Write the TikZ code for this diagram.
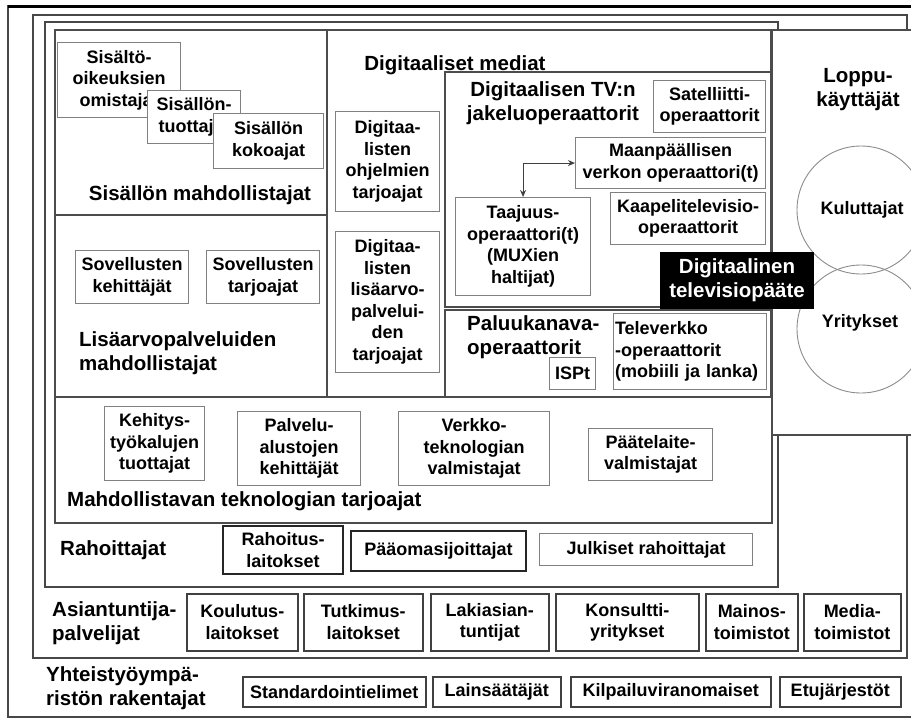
\documentclass[tikz,border=0pt]{standalone}
\usepackage{fontspec}
\setmainfont{Liberation Sans}
\usetikzlibrary{arrows.meta}
\newcommand\boxfont{\fontsize{18}{21.5}\selectfont\bfseries}
\newcommand\labfont{\fontsize{20.5}{24}\selectfont\bfseries}
\begin{document}
\begin{tikzpicture}[x=1pt,y=-1pt,
  frame/.style={draw=black!72, line width=1.7pt},
  grp/.style={draw=black!70, line width=1.6pt},
  sbox/.style={draw=black!50, line width=1.1pt, fill=white, inner sep=0pt,
    anchor=north west, align=center, font=\boxfont},
  dbox/.style={sbox, draw=black!75, line width=1.5pt},
  hbox/.style={sbox, draw=black!85, line width=2pt},
  lab/.style={inner sep=0pt, font=\labfont},
  ring/.style={circle, draw=black!45, line width=0.9pt, minimum size=128pt, inner sep=0pt, font=\boxfont},
  arr/.style={draw=black!75, line width=1pt, {Stealth[length=7pt,width=6pt]}-{Stealth[length=7pt,width=6pt]}}
]
\useasboundingbox (0,0) rectangle (911,720);
\clip (0,0) rectangle (911,720);
\fill[white] (0,0) rectangle (911,720);

% nested frames
\draw[frame] (8,6) rectangle (940,717);
\draw[black, line width=3pt] (8,6) -- (940,6);
\draw[frame] (33,15) rectangle (907,658);
\draw[frame] (45,22) rectangle (778,587);

% group areas
\draw[grp] (55,30) rectangle (327,215);
\draw[grp] (55,215) rectangle (327,397);
\draw[grp] (327,30) rectangle (771,397);
\draw[grp] (445,72) rectangle (771,307);
\draw[grp] (445,310) rectangle (771,397);
\draw[grp] (55,397) rectangle (772,523);

% end users
\draw[grp, fill=white] (772,30) rectangle (940,435);
\node[lab, align=center] (endusers) at (858,90) {Loppu-\\käyttäjät};
\node[ring] (consumers) at (861,210) {};
\node[ring] (companies) at (861,329) {};
\node[inner sep=0pt, font=\boxfont, anchor=base] (conslab) at (862,214) {Kuluttajat};
\node[inner sep=0pt, font=\boxfont, anchor=base] (complab) at (860,327) {Yritykset};

% content enablers
\node[sbox, minimum width=123pt, minimum height=75pt] (owners) at (57,42) {Sisältö-\\oikeuksien\\omistajat};
\node[sbox, minimum width=93pt, minimum height=53pt] (producers) at (147,90) {Sisällön-\\tuottajat};
\node[sbox, minimum width=110pt, minimum height=55pt] (aggregators) at (213,113) {Sisällön\\kokoajat};
\node[lab, anchor=base] (contentlab) at (200,200) {Sisällön mahdollistajat};

% value-added service enablers
\node[sbox, minimum width=113pt, minimum height=53pt] (appdev) at (75,250) {Sovellusten\\kehittäjät};
\node[sbox, minimum width=113pt, minimum height=53pt] (appprov) at (206,250) {Sovellusten\\tarjoajat};
\node[lab, anchor=west, align=left] (valab) at (79,353) {Lisäarvopalveluiden\\mahdollistajat};

% digital media
\node[lab, anchor=base] (medialab) at (455,70) {Digitaaliset mediat};
\node[sbox, minimum width=104pt, minimum height=100pt] (progprov) at (335,111) {Digitaa-\\listen\\ohjelmien\\tarjoajat};
\node[sbox, minimum width=104pt, minimum height=141pt] (vasprov) at (335,231) {Digitaa-\\listen\\lisäarvo-\\palvelui-\\den\\tarjoajat};

% distribution operators
\node[lab, align=center] (tvlab) at (553,103) {Digitaalisen TV:n\\jakeluoperaattorit};
\node[sbox, minimum width=112pt, minimum height=52pt] (sat) at (653,80) {Satelliitti-\\operaattorit};
\node[sbox, minimum width=190pt, minimum height=51pt] (terr) at (575,137) {Maanpäällisen\\verkon operaattori(t)};
\node[sbox, minimum width=155pt, minimum height=52pt] (cable) at (610,192) {Kaapelitelevisio-\\operaattorit};
\node[sbox, minimum width=135pt, minimum height=98pt] (mux) at (455,197) {Taajuus-\\operaattori(t)\\(MUXien\\haltijat)};
\draw[arr] (mux.north) |- (terr.west);
\node[sbox, draw=black, fill=black, text=white, font=\labfont, minimum width=153pt, minimum height=56pt] (stb) at (660,252) {Digitaalinen\\televisiopääte};

% return channel operators
\node[lab, anchor=west, align=left] (retlab) at (467,337) {Paluukanava-\\operaattorit};
\node[sbox, minimum width=46pt, minimum height=32pt] (isp) at (549,357) {ISPt};
\node[sbox, align=left, text width=150pt, inner sep=1.5pt, minimum height=76pt] (telco) at (613,313) {Televerkko\\-operaattorit\\(mobiili ja lanka)};

% enabling technology providers
\node[sbox, minimum width=100pt, minimum height=74pt] (tools) at (104,406) {Kehitys-\\työkalujen\\tuottajat};
\node[sbox, minimum width=123pt, minimum height=74pt] (platf) at (237,411) {Palvelu-\\alustojen\\kehittäjät};
\node[sbox, minimum width=151pt, minimum height=74pt] (netw) at (398,411) {Verkko-\\teknologian\\valmistajat};
\node[sbox, minimum width=124pt, minimum height=52pt] (term) at (588,428) {Päätelaite-\\valmistajat};
\node[lab, anchor=base west] (techlab) at (67,506) {Mahdollistavan teknologian tarjoajat};

% financiers
\node[lab, anchor=base west] (finlab) at (60,555) {Rahoittajat};
\node[hbox, minimum width=120pt, minimum height=48pt] (finins) at (222,525) {Rahoitus-\\laitokset};
\node[hbox, minimum width=175pt, minimum height=40pt] (vc) at (350,530) {Pääomasijoittajat};
\node[sbox, minimum width=213pt, minimum height=32pt] (pubfin) at (539,533) {Julkiset rahoittajat};

% expert services
\node[lab, anchor=west, align=left] (explab) at (52,623) {Asiantuntija-\\palvelijat};
\node[dbox, minimum width=111pt, minimum height=57pt] (edu) at (186,593) {Koulutus-\\laitokset};
\node[dbox, minimum width=119pt, minimum height=57pt] (research) at (303,593) {Tutkimus-\\laitokset};
\node[dbox, minimum width=118pt, minimum height=57pt] (law) at (430,593) {Lakiasian-\\tuntijat};
\node[dbox, minimum width=143pt, minimum height=57pt] (consult) at (555,593) {Konsultti-\\yritykset};
\node[dbox, minimum width=92pt, minimum height=57pt] (adv) at (705,593) {Mainos-\\toimistot};
\node[dbox, minimum width=97pt, minimum height=57pt] (mediaag) at (803,593) {Media-\\toimistot};

% cooperation environment builders
\node[lab, anchor=west, align=left] (coolab) at (46,688) {Yhteistyöympä-\\ristön rakentajat};
\node[dbox, minimum width=183pt, minimum height=30pt] (std) at (242,676) {Standardointielimet};
\node[dbox, minimum width=128pt, minimum height=30pt] (legis) at (432,676) {Lainsäätäjät};
\node[dbox, minimum width=200pt, minimum height=30pt] (compet) at (570,676) {Kilpailuviranomaiset};
\node[dbox, minimum width=121pt, minimum height=30pt] (assoc) at (779,676) {Etujärjestöt};
\end{tikzpicture}
\end{document}
